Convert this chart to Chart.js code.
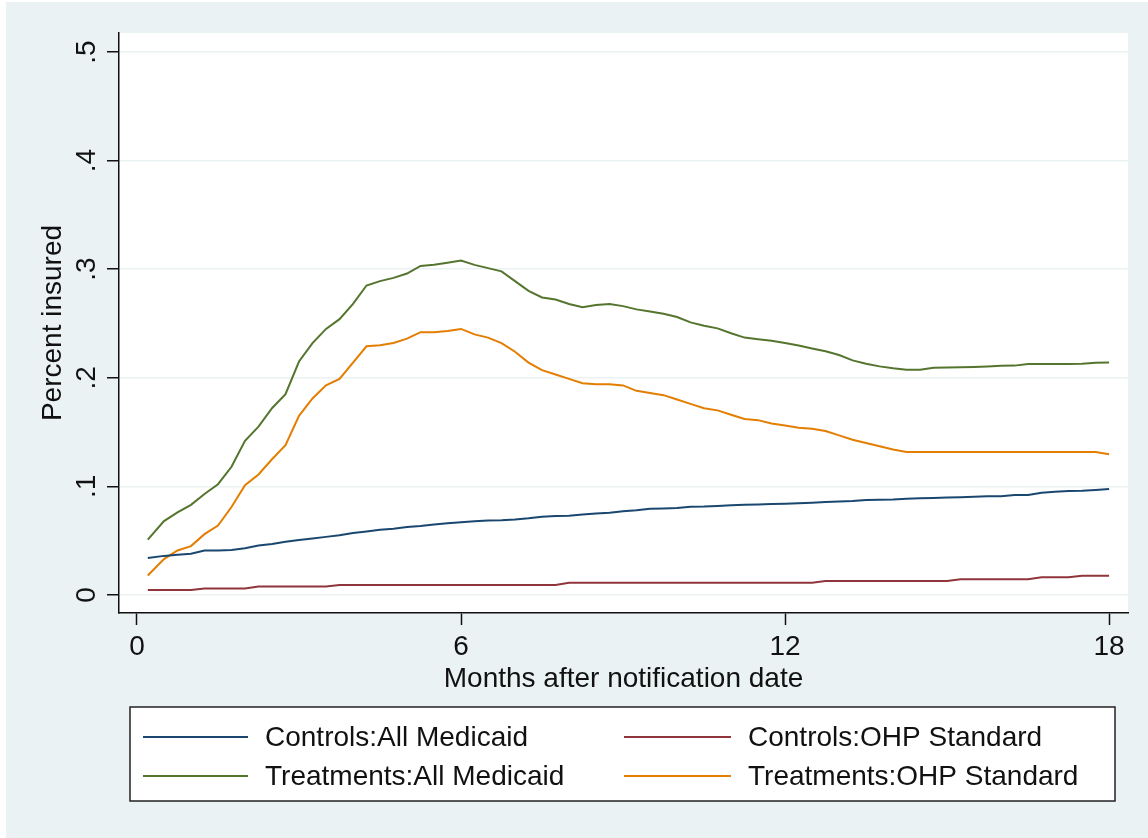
<!DOCTYPE html>
<html>
<head>
<meta charset="utf-8">
<script src="https://cdn.jsdelivr.net/npm/chart.js@4/dist/chart.umd.min.js"></script>
<style>
  html, body { margin: 0; padding: 0; background: #ffffff; }
  #wrap { position: absolute; left: 6px; top: 2px; width: 1142px; height: 836px; background: #eaf2f3; }
  #c { display: block; }
</style>
</head>
<body>
<div id="wrap"><canvas id="c" width="1142" height="836"></canvas></div>
<script>
// Months after notification date
const months = [0.2, 0.5, 0.75, 1, 1.25, 1.5, 1.75, 2, 2.25, 2.5,
  2.75, 3, 3.25, 3.5, 3.75, 4, 4.25, 4.5, 4.75, 5,
  5.25, 5.5, 5.75, 6, 6.25, 6.5, 6.75, 7, 7.25, 7.5,
  7.75, 8, 8.25, 8.5, 8.75, 9, 9.25, 9.5, 9.75, 10,
  10.25, 10.5, 10.75, 11, 11.25, 11.5, 11.75, 12, 12.25, 12.5,
  12.75, 13, 13.25, 13.5, 13.75, 14, 14.25, 14.5, 14.75, 15,
  15.25, 15.5, 15.75, 16, 16.25, 16.5, 16.75, 17, 17.25, 17.5, 17.75, 18];

// Share insured, by group
const ctrlAll = [0.034, 0.036, 0.037, 0.038, 0.041, 0.041, 0.0414, 0.043, 0.0455, 0.047,
  0.049, 0.0506, 0.052, 0.0535, 0.055, 0.057, 0.0585, 0.060, 0.061, 0.0625,
  0.0635, 0.065, 0.066, 0.067, 0.068, 0.0685, 0.0688, 0.0695, 0.0706, 0.072,
  0.0727, 0.073, 0.0742, 0.075, 0.0758, 0.077, 0.078, 0.0795, 0.0797, 0.080,
  0.0813, 0.0815, 0.082, 0.0826, 0.083, 0.0833, 0.0838, 0.0841, 0.0845, 0.085,
  0.0856, 0.086, 0.0865, 0.0875, 0.0878, 0.088, 0.0885, 0.089, 0.0893, 0.0897,
  0.090, 0.0905, 0.0908, 0.091, 0.092, 0.092, 0.0942, 0.095, 0.0958, 0.096, 0.0967, 0.0976];

const ctrlOhp = [0.0046, 0.0046, 0.0046, 0.0046, 0.006, 0.006, 0.006, 0.006, 0.0077, 0.0077,
  0.0077, 0.0077, 0.0077, 0.0077, 0.0092, 0.0092, 0.0092, 0.0092, 0.0092, 0.0092,
  0.0092, 0.0092, 0.0092, 0.0092, 0.0092, 0.0092, 0.0092, 0.0092, 0.0092, 0.0092,
  0.0092, 0.0113, 0.0113, 0.0113, 0.0113, 0.0113, 0.0113, 0.0113, 0.0113, 0.0113,
  0.0113, 0.0113, 0.0113, 0.0113, 0.0113, 0.0113, 0.0113, 0.0113, 0.0113, 0.0113,
  0.0129, 0.0129, 0.0129, 0.0129, 0.0129, 0.0129, 0.0129, 0.0129, 0.0129, 0.0129,
  0.0145, 0.0145, 0.0145, 0.0145, 0.0145, 0.0145, 0.0163, 0.0163, 0.0163, 0.0178, 0.0178, 0.0178];

const treatAll = [0.051, 0.068, 0.076, 0.083, 0.093, 0.102, 0.118, 0.142, 0.155, 0.172,
  0.185, 0.215, 0.232, 0.245, 0.254, 0.268, 0.285, 0.289, 0.292, 0.296,
  0.303, 0.304, 0.306, 0.308, 0.304, 0.301, 0.298, 0.289, 0.280, 0.274,
  0.272, 0.268, 0.265, 0.267, 0.268, 0.266, 0.263, 0.261, 0.259, 0.256,
  0.251, 0.248, 0.2455, 0.241, 0.237, 0.2355, 0.234, 0.232, 0.2297, 0.227,
  0.2245, 0.221, 0.216, 0.213, 0.2105, 0.2088, 0.2075, 0.2075, 0.2092, 0.2095,
  0.2097, 0.2100, 0.2105, 0.211, 0.2112, 0.2127, 0.2127, 0.2127, 0.2127, 0.2130, 0.2139, 0.214];

const treatOhp = [0.018, 0.033, 0.041, 0.045, 0.056, 0.064, 0.081, 0.101, 0.111, 0.125,
  0.138, 0.165, 0.181, 0.193, 0.199, 0.214, 0.229, 0.230, 0.232, 0.236,
  0.242, 0.242, 0.243, 0.245, 0.240, 0.237, 0.232, 0.224, 0.214, 0.207,
  0.203, 0.199, 0.195, 0.194, 0.194, 0.193, 0.188, 0.186, 0.184, 0.180,
  0.176, 0.172, 0.170, 0.166, 0.162, 0.161, 0.158, 0.156, 0.154, 0.153,
  0.151, 0.147, 0.143, 0.140, 0.137, 0.134, 0.1317, 0.1317, 0.1317, 0.1317,
  0.1317, 0.1317, 0.1317, 0.1317, 0.1317, 0.1317, 0.1317, 0.1317, 0.1317, 0.1317, 0.1317, 0.1296];

const seriesLabels = ['Controls:All Medicaid', 'Controls:OHP Standard', 'Treatments:All Medicaid', 'Treatments:OHP Standard'];
const seriesColors = ['#1a476f', '#90353b', '#55752f', '#e37e00'];

const xTickValues = [0, 6, 12, 18];
const yTickValues = [0, 0.1, 0.2, 0.3, 0.4, 0.5];
const yTickLabels = ['0', '.1', '.2', '.3', '.4', '.5'];

const FONT = "'Liberation Sans', Arial, Helvetica, sans-serif";
const FONT_SIZE = 28;
const TEXT = '#111111';

const toPoints = vals => months.map((m, i) => ({ x: m, y: vals[i] }));

const datasets = [ctrlAll, ctrlOhp, treatAll, treatOhp].map((vals, i) => ({
  label: seriesLabels[i],
  data: toPoints(vals),
  borderColor: seriesColors[i],
  backgroundColor: seriesColors[i],
  borderWidth: 2,
  pointRadius: 0,
  tension: 0,
  fill: false
}));

// white plot region behind the lines
const plotBackground = {
  id: 'plotBackground',
  beforeDraw(chart) {
    const { ctx, chartArea: a } = chart;
    ctx.save();
    ctx.fillStyle = '#ffffff';
    ctx.fillRect(a.left, a.top, a.right - a.left, a.bottom - a.top);
    ctx.restore();
  }
};

// vertical y tick labels, reading bottom to top
const verticalYLabels = {
  id: 'verticalYLabels',
  afterDraw(chart) {
    const { ctx } = chart;
    const y = chart.scales.y;
    ctx.save();
    ctx.fillStyle = TEXT;
    ctx.font = `${FONT_SIZE}px ${FONT}`;
    ctx.textAlign = 'center';
    ctx.textBaseline = 'alphabetic';
    yTickValues.forEach((v, i) => {
      const py = y.getPixelForValue(v);
      ctx.save();
      ctx.translate(89, py);
      ctx.rotate(-Math.PI / 2);
      ctx.fillText(yTickLabels[i], 0, 0);
      ctx.restore();
    });
    ctx.restore();
  }
};

// boxed two-column legend under the axis title
const boxedLegend = {
  id: 'boxedLegend',
  afterDraw(chart) {
    const { ctx } = chart;
    const box = { x: 124, y: 705, w: 985, h: 94 };
    ctx.save();
    ctx.fillStyle = '#ffffff';
    ctx.fillRect(box.x, box.y, box.w, box.h);
    ctx.strokeStyle = '#222222';
    ctx.lineWidth = 1.5;
    ctx.strokeRect(box.x, box.y, box.w, box.h);
    const cols = [{ l0: 137, l1: 242, t: 259 }, { l0: 618, l1: 725, t: 742 }];
    const rows = [735, 774];
    ctx.font = `${FONT_SIZE}px ${FONT}`;
    ctx.textBaseline = 'middle';
    ctx.textAlign = 'left';
    chart.data.datasets.forEach((ds, i) => {
      const c = cols[i % 2], r = rows[Math.floor(i / 2)];
      ctx.strokeStyle = ds.borderColor;
      ctx.lineWidth = 2;
      ctx.beginPath();
      ctx.moveTo(c.l0, r);
      ctx.lineTo(c.l1, r);
      ctx.stroke();
      ctx.fillStyle = TEXT;
      ctx.fillText(ds.label, c.t, r + 1);
    });
    ctx.restore();
  }
};

new Chart(document.getElementById('c'), {
  type: 'line',
  data: { datasets },
  options: {
    responsive: false,
    devicePixelRatio: 1,
    animation: false,
    layout: { padding: { top: 31, right: 20, bottom: 133, left: 0 } },
    plugins: {
      legend: { display: false },
      tooltip: { enabled: false }
    },
    scales: {
      x: {
        type: 'linear',
        min: -0.333,
        max: 18.35,
        afterBuildTicks: s => { s.ticks = xTickValues.map(v => ({ value: v })); },
        afterFit: s => { s.height = 92; },
        ticks: {
          color: TEXT,
          font: { family: FONT, size: FONT_SIZE },
          padding: 5,
          maxRotation: 0,
          callback: v => String(v)
        },
        grid: { drawOnChartArea: false, drawTicks: true, tickLength: 12, tickColor: '#111111', tickWidth: 1.5 },
        border: { display: true, color: '#111111', width: 1.5 },
        title: {
          display: true,
          text: 'Months after notification date',
          color: TEXT,
          font: { family: FONT, size: FONT_SIZE },
          padding: { top: 0, bottom: 9 }
        }
      },
      y: {
        type: 'linear',
        min: -0.0166,
        max: 0.5175,
        afterBuildTicks: s => { s.ticks = yTickValues.map(v => ({ value: v })); },
        afterFit: s => { s.width = 113; },
        ticks: { display: false },
        grid: { color: '#eaf2f3', lineWidth: 1.5, drawTicks: true, tickLength: 12, tickColor: '#111111', tickWidth: 1.5 },
        border: { display: true, color: '#111111', width: 1.5 },
        title: {
          display: true,
          text: 'Percent insured',
          color: TEXT,
          font: { family: FONT, size: FONT_SIZE },
          padding: { top: 30, bottom: 0 }
        }
      }
    }
  },
  plugins: [plotBackground, verticalYLabels, boxedLegend]
});
</script>
</body>
</html>
